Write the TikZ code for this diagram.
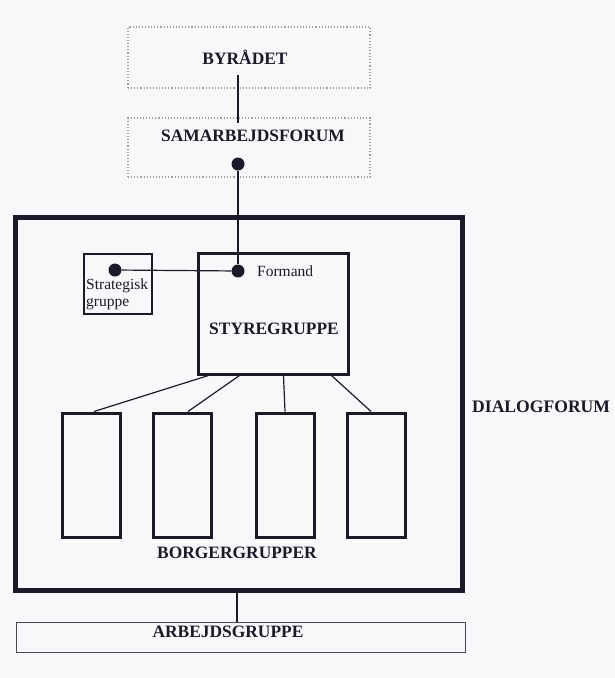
\documentclass[tikz,border=0pt]{standalone}
\usepackage{fontspec}
\setmainfont{Liberation Serif}
\usetikzlibrary{calc}
\definecolor{bg}{HTML}{F8F8FB}
\definecolor{ink}{HTML}{1A1A28}
\begin{document}
\begin{tikzpicture}[x=1pt,y=-1pt,
  dotbox/.style={draw=gray!75, dotted, line width=1.1pt, minimum width=242pt, inner sep=0pt},
  box/.style={draw=ink, rectangle, inner sep=0pt},
  title/.style={font=\fontsize{17.4}{20}\selectfont\bfseries, text=ink, inner sep=0pt},
  small/.style={font=\fontsize{15.5}{16}\selectfont, text=ink, inner sep=0pt, align=left},
  dot/.style={circle, fill=ink, minimum size=13pt, inner sep=0pt},
  conn/.style={draw=ink, line width=1.2pt}]
\useasboundingbox[fill=bg] (0,0) rectangle (615,678);
% top dotted boxes
\node[dotbox, minimum height=61pt] (byr) at (249,57.5) {};
\node[title] (byrt) at (245,57) {BYRÅDET};
\node[dotbox, minimum height=59pt] (sam) at (249,147.5) {};
\node[title] (samt) at (253,136) {SAMARBEJDSFORUM};
\coordinate (l1a) at (238,75);
\coordinate (l1b) at (238,123);
\draw[conn, line width=1.6pt] (l1a) -- (l1b);
% outer dialog forum
\node[box, line width=5pt, minimum width=447pt, minimum height=373pt] (outer) at (238.5,403.5) {};
\node[title, anchor=west, font=\fontsize{17.6}{20}\selectfont\bfseries] (dia) at (472,407) {DIALOGFORUM};
% styregruppe
\node[box, line width=3pt, minimum width=150pt, minimum height=121pt] (sty) at (273,313.5) {};
\node[title] (styt) at (274,329) {STYREGRUPPE};
\node[small, anchor=west] (form) at (257,271) {Formand};
% strategisk gruppe
\node[box, line width=2pt, minimum width=68pt, minimum height=60pt] (strat) at (118,284) {};
\node[small, anchor=north west, font=\fontsize{15.5}{17}\selectfont] (stratt) at (86,279) {Strategisk\\gruppe};
% dots and links
\node[dot] (samdot) at (238,164) {};
\node[dot] (fdot) at (238,271) {};
\node[dot] (sdot) at (115,270) {};
\draw[conn] (samdot) -- (fdot);
\draw[conn] (sdot) -- (fdot);
% borgergrupper
\foreach \n/\x in {1/91,2/182.5,3/285.5,4/376.5}{
  \node[box, line width=3pt, minimum width=58pt, minimum height=124pt] (b\n) at (\x,475) {};
}
\node[title] (borg) at (237,553) {BORGERGRUPPER};
\draw[conn] ($(sty.south west)+(12,0)$) -- ($(b1.north)+(3,0)$);
\draw[conn] ($(sty.south west)+(43,0)$) -- ($(b2.north)+(5.5,0)$);
\draw[conn] ($(sty.south west)+(87,0)$) -- ($(b3.north)+(-0.5,0)$);
\draw[conn] ($(sty.south west)+(135,0)$) -- ($(b4.north)+(-5.5,0)$);
% arbejdsgruppe
\node[box, line width=1pt, draw=ink!80, minimum width=449pt, minimum height=30pt] (arb) at (240.5,637) {};
\node[title] (arbt) at (228,632) {ARBEJDSGRUPPE};
\draw[conn] (outer.south -| 237,0) -- (arb.north -| 237,0);
\end{tikzpicture}
\end{document}
